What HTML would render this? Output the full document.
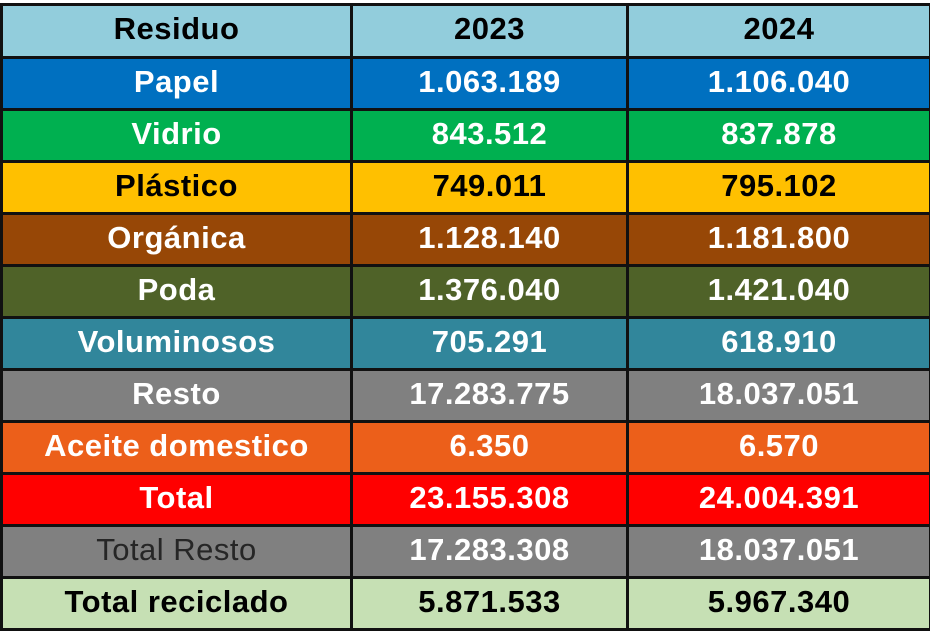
<!DOCTYPE html>
<html><head><meta charset="utf-8"><style>
body{margin:0;width:930px;height:624px;overflow:hidden;background:#fff;font-family:"Liberation Sans",Arial,sans-serif}
table{position:absolute;left:0;top:3px;border-collapse:collapse;width:932px;table-layout:fixed}
td{border:3px solid #111;height:49px;padding:0 0 4px 0;box-sizing:border-box;text-align:center;font-weight:bold;font-size:31px;color:#fff;line-height:44px;letter-spacing:0.5px;vertical-align:middle}
tr{height:52px}
tr.h{height:53px}
col.a{width:350px}col.b{width:276px}
</style></head><body>
<table>
<colgroup><col class="a"><col class="b"><col></colgroup>
<tr class="h" style="background:#92cddc"><td style="color:#000">Residuo</td><td style="color:#000">2023</td><td style="color:#000">2024</td></tr>
<tr style="background:#0070c0"><td>Papel</td><td>1.063.189</td><td>1.106.040</td></tr>
<tr style="background:#00b050"><td>Vidrio</td><td>843.512</td><td>837.878</td></tr>
<tr style="background:#ffc000;color:#000"><td style="color:#000">Plástico</td><td style="color:#000">749.011</td><td style="color:#000">795.102</td></tr>
<tr style="background:#974706"><td>Orgánica</td><td>1.128.140</td><td>1.181.800</td></tr>
<tr style="background:#4f6228"><td>Poda</td><td>1.376.040</td><td>1.421.040</td></tr>
<tr style="background:#31869b"><td>Voluminosos</td><td>705.291</td><td>618.910</td></tr>
<tr style="background:#808080"><td>Resto</td><td>17.283.775</td><td>18.037.051</td></tr>
<tr style="background:#ec5f1a"><td>Aceite domestico</td><td>6.350</td><td>6.570</td></tr>
<tr style="background:#ff0000"><td>Total</td><td>23.155.308</td><td>24.004.391</td></tr>
<tr style="background:#808080"><td style="color:#262626;font-weight:normal">Total Resto</td><td>17.283.308</td><td>18.037.051</td></tr>
<tr style="background:#c6e0b4"><td style="color:#000">Total reciclado</td><td style="color:#000">5.871.533</td><td style="color:#000">5.967.340</td></tr>
</table>
</body></html>
